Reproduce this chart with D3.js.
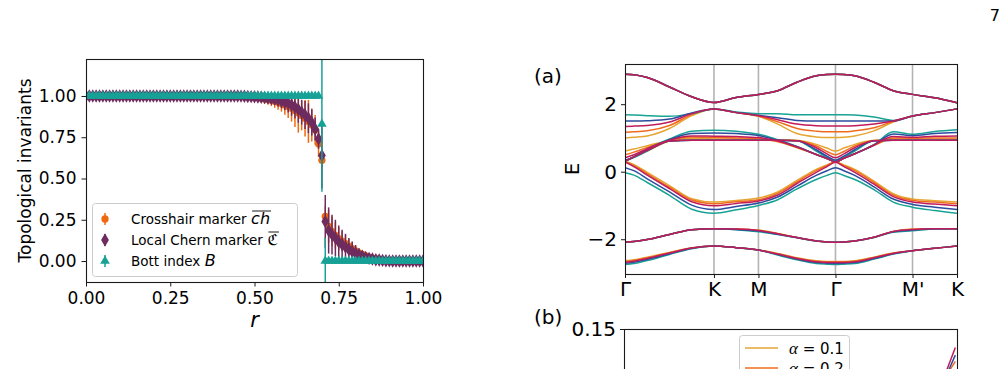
<!DOCTYPE html>
<html><head><meta charset="utf-8">
<script src="https://cdn.jsdelivr.net/npm/d3@7"></script>
<style>
body{margin:0;background:#fff}
svg{display:block}
text{font-family:"DejaVu Sans",sans-serif;fill:#000}
</style>
</head><body>
<svg id="c" width="1007" height="369"></svg>
<script>
// ================= DATA: left panel (topological invariants vs r) =================
const rGrid = [0.00,0.01,0.02,0.03,0.04,0.05,0.06,0.07,0.08,0.09,0.10,0.11,0.12,0.13,0.14,0.15,0.16,0.17,0.18,0.19,0.20,0.21,0.22,0.23,0.24,0.25,0.26,0.27,0.28,0.29,0.30,0.31,0.32,0.33,0.34,0.35,0.36,0.37,0.38,0.39,0.40,0.41,0.42,0.43,0.44,0.45,0.46,0.47,0.48,0.49,0.50,0.51,0.52,0.53,0.54,0.55,0.56,0.57,0.58,0.59,0.60,0.61,0.62,0.63,0.64,0.65,0.66,0.67,0.68,0.69,0.70,0.71,0.72,0.73,0.74,0.75,0.76,0.77,0.78,0.79,0.80,0.81,0.82,0.83,0.84,0.85,0.86,0.87,0.88,0.89,0.90,0.91,0.92,0.93,0.94,0.95,0.96,0.97,0.98,0.99,1.00];
const crosshair = [
1,1,1,1,1,1,1,1,1,1,
1,1,1,1,1,1,1,1,1,1,
1,1,1,1,1,1,1,1,1,1,
1,1,1,1,1,1,1,1,1,1,
1,1,1,1,1,1,0.999,0.998,0.997,0.995,
0.993,0.99,0.987,0.983,0.979,0.974,0.968,0.962,0.955,0.946,
0.936,0.925,0.912,0.898,0.882,0.865,0.846,0.824,0.795,0.71,
0.61,0.27,0.21,0.18,0.155,0.135,0.12,0.105,0.09,0.075,
0.062,0.05,0.04,0.031,0.024,0.018,0.013,0.009,0.006,0.004,
0.002,0.001,0.001,0.001,0.001,0.001,0.001,0.001,0.001,0.001,
0.001];
const crosshairErr = [
0.01,0.01,0.01,0.01,0.01,0.01,0.01,0.01,0.01,0.01,
0.01,0.01,0.01,0.01,0.01,0.01,0.01,0.01,0.01,0.01,
0.01,0.01,0.01,0.01,0.01,0.01,0.01,0.01,0.01,0.01,
0.01,0.01,0.01,0.01,0.01,0.01,0.01,0.01,0.01,0.01,
0.01,0.012,0.012,0.012,0.012,0.012,0.015,0.015,0.018,0.02,
0.02,0.025,0.025,0.03,0.03,0.035,0.04,0.045,0.05,0.06,
0.07,0.08,0.1,0.12,0.09,0.11,0.13,0.1,0.09,0.08,
0.05,0.06,0.1,0.09,0.08,0.07,0.06,0.05,0.045,0.04,
0.03,0.025,0.02,0.018,0.015,0.012,0.01,0.008,0.008,0.008,
0.008,0.008,0.008,0.008,0.008,0.008,0.008,0.008,0.008,0.008,
0.008];
const chern = [
1,1,1,1,1,1,1,1,1,1,
1,1,1,1,1,1,1,1,1,1,
1,1,1,1,1,1,1,1,1,1,
1,1,1,1,1,1,1,1,1,1,
1,1,1,1,1,1,0.999,0.998,0.997,0.996,
0.995,0.994,0.992,0.99,0.988,0.985,0.981,0.976,0.97,0.963,
0.955,0.945,0.933,0.918,0.902,0.885,0.865,0.84,0.80,0.74,
0.64,0.24,0.185,0.16,0.14,0.115,0.10,0.085,0.07,0.058,
0.047,0.037,0.029,0.022,0.016,0.012,0.008,0.006,0.004,0.002,
0.001,0,0,0,0,0,0,0,0,0,
0];
const chernErr = [
0.012,0.012,0.012,0.012,0.012,0.012,0.012,0.012,0.012,0.012,
0.012,0.012,0.012,0.012,0.012,0.012,0.012,0.012,0.012,0.012,
0.012,0.012,0.012,0.012,0.012,0.012,0.012,0.012,0.012,0.012,
0.012,0.012,0.012,0.012,0.012,0.012,0.012,0.012,0.012,0.012,
0.012,0.012,0.012,0.012,0.012,0.012,0.015,0.015,0.018,0.02,
0.02,0.022,0.025,0.025,0.03,0.03,0.035,0.04,0.045,0.05,
0.055,0.065,0.07,0.08,0.075,0.085,0.09,0.08,0.07,0.06,
0.2,0.16,0.14,0.12,0.11,0.1,0.09,0.08,0.07,0.06,
0.05,0.04,0.03,0.025,0.02,0.015,0.012,0.01,0.01,0.01,
0.01,0.01,0.01,0.01,0.01,0.01,0.01,0.01,0.01,0.01,
0.01];
const bott = [
1,1,1,1,1,1,1,1,1,1,
1,1,1,1,1,1,1,1,1,1,
1,1,1,1,1,1,1,1,1,1,
1,1,1,1,1,1,1,1,1,1,
1,1,1,1,1,1,1,1,1,1,
1,1,1,1,1,1,1,1,1,1,
1,1,1,1,1,1,1,1,1,1,
0.83,0,0,0,0,0,0,0,0,0,
0,0,0,0,0,0,0,0,0,0,
0,0,0,0,0,0,0,0,0,0,
0];
const bottErr = [
0.005,0.005,0.005,0.005,0.005,0.005,0.005,0.005,0.005,0.005,
0.005,0.005,0.005,0.005,0.005,0.005,0.005,0.005,0.005,0.005,
0.005,0.005,0.005,0.005,0.005,0.005,0.005,0.005,0.005,0.005,
0.005,0.005,0.005,0.005,0.005,0.005,0.005,0.005,0.005,0.005,
0.005,0.005,0.005,0.005,0.005,0.005,0.005,0.005,0.005,0.005,
0.005,0.005,0.005,0.005,0.005,0.005,0.005,0.005,0.005,0.005,
0.005,0.005,0.005,0.005,0.005,0.005,0.005,0.005,0.005,0.005,
0.41,0.14,0.005,0.005,0.005,0.005,0.005,0.005,0.005,0.005,
0.005,0.005,0.005,0.005,0.005,0.005,0.005,0.005,0.005,0.005,
0.005,0.005,0.005,0.005,0.005,0.005,0.005,0.005,0.005,0.005,
0.005];
const leftTicks = [0,0.25,0.5,0.75,1];
const seriesNames = ["Crosshair marker","Local Chern marker","Bott index"];
const seriesMath = ["ch","ℭ","B"];
const seriesColors = ["#f0690f","#6e2b5e","#17a196"];

// ================= DATA: panel (a) band structure =================
const kPts = [0,0.1,0.25,0.5,0.75,1,1.25,1.5,1.7165,1.933,2.1495,2.27,2.366,2.46,2.5825,2.799,3.0155,3.232,3.482,3.732];
const symPos = [0,1,1.5,2.366,3.232,3.732];
const symLabels = ["Γ","K","M","Γ","M'","K"];
const bandTicks = [-2,0,2];
const alphas = [0.1,0.2,0.3,0.4,0.5];
const alphaColors = ["#e5a632","#ef6c1e","#c01c5c","#2c4c9e","#19a394"];
// each band: rows = alpha 0.1 .. 0.5
const bandA = [2.89,2.87,2.79,2.51,2.22,2.05,2.20,2.29,2.40,2.65,2.84,2.88,2.89,2.88,2.84,2.65,2.40,2.29,2.19,2.04];
const bandB = [
 [1.00,1.02,1.06,1.28,1.66,1.86,1.75,1.64,1.41,1.13,1.03,1.01,1.01,1.02,1.06,1.21,1.47,1.65,1.75,1.86],
 [1.17,1.18,1.21,1.37,1.69,1.86,1.75,1.65,1.48,1.28,1.20,1.18,1.18,1.18,1.21,1.30,1.49,1.65,1.75,1.86],
 [1.34,1.35,1.37,1.47,1.72,1.86,1.75,1.66,1.54,1.41,1.36,1.35,1.35,1.35,1.36,1.41,1.50,1.65,1.75,1.86],
 [1.50,1.50,1.51,1.56,1.74,1.86,1.75,1.67,1.60,1.52,1.50,1.50,1.50,1.50,1.50,1.50,1.50,1.65,1.75,1.86],
 [1.69,1.68,1.66,1.64,1.72,1.86,1.77,1.72,1.72,1.69,1.69,1.69,1.69,1.69,1.68,1.62,1.52,1.65,1.75,1.86]];
const bandS = [
 [0.31,0.44,0.61,0.91,0.99,0.97,0.97,0.96,0.89,0.71,0.51,0.39,0.29,0.40,0.53,0.78,0.97,0.96,0.96,0.96],
 [0.31,0.44,0.62,0.92,1.03,1.01,1.00,0.98,0.90,0.72,0.51,0.39,0.29,0.40,0.53,0.78,1.00,0.99,1.00,1.00],
 [0.31,0.44,0.63,0.93,1.06,1.05,1.04,1.01,0.91,0.73,0.51,0.39,0.29,0.40,0.53,0.79,1.04,1.02,1.05,1.06],
 [0.31,0.44,0.65,0.95,1.13,1.15,1.13,1.07,0.93,0.74,0.51,0.39,0.29,0.40,0.53,0.79,1.12,1.07,1.13,1.16],
 [0.31,0.44,0.67,0.97,1.20,1.23,1.20,1.11,0.95,0.75,0.51,0.39,0.29,0.40,0.53,0.80,1.18,1.11,1.19,1.24]];
const bandF = [
 [0.61,0.67,0.77,0.91,0.95,0.95,0.95,0.95,0.95,0.93,0.81,0.70,0.61,0.70,0.81,0.93,0.95,0.95,0.95,0.95],
 [0.50,0.58,0.72,0.91,0.94,0.94,0.94,0.94,0.94,0.92,0.76,0.60,0.50,0.60,0.76,0.92,0.94,0.94,0.94,0.94],
 [0.41,0.50,0.68,0.91,0.93,0.93,0.93,0.93,0.93,0.92,0.71,0.53,0.41,0.53,0.71,0.92,0.93,0.93,0.93,0.93],
 [0.34,0.44,0.63,0.91,0.93,0.93,0.93,0.93,0.93,0.92,0.65,0.46,0.34,0.46,0.65,0.92,0.93,0.93,0.93,0.93],
 [0.31,0.42,0.61,0.91,0.93,0.93,0.93,0.93,0.93,0.92,0.61,0.42,0.31,0.42,0.61,0.92,0.93,0.93,0.93,0.93]];
const bandD = [
 [0.31,0.21,-0.02,-0.41,-0.80,-0.90,-0.85,-0.78,-0.60,-0.26,0.07,0.20,0.29,0.20,0.07,-0.28,-0.65,-0.81,-0.86,-0.90],
 [0.30,0.18,-0.06,-0.46,-0.84,-0.95,-0.89,-0.83,-0.64,-0.30,0.03,0.18,0.29,0.18,0.03,-0.32,-0.69,-0.85,-0.90,-0.95],
 [0.29,0.15,-0.10,-0.50,-0.89,-1.01,-0.94,-0.87,-0.69,-0.35,-0.02,0.15,0.28,0.15,-0.02,-0.37,-0.74,-0.90,-0.96,-1.01],
 [0.12,0.03,-0.21,-0.60,-0.99,-1.12,-1.03,-0.93,-0.75,-0.43,-0.11,0.03,0.12,0.03,-0.11,-0.45,-0.81,-0.97,-1.05,-1.12],
 [-0.03,-0.10,-0.32,-0.70,-1.11,-1.23,-1.13,-1.00,-0.83,-0.51,-0.23,-0.11,-0.03,-0.11,-0.23,-0.53,-0.90,-1.05,-1.15,-1.23]];
const bandE = [
 [-2.09,-2.07,-2.01,-1.86,-1.72,-1.69,-1.70,-1.73,-1.83,-1.95,-2.05,-2.08,-2.09,-2.08,-2.05,-1.94,-1.77,-1.70,-1.69,-1.69],
 [-2.09,-2.07,-2.01,-1.86,-1.72,-1.69,-1.70,-1.74,-1.84,-1.95,-2.05,-2.08,-2.09,-2.08,-2.05,-1.94,-1.77,-1.71,-1.69,-1.69],
 [-2.09,-2.07,-2.01,-1.86,-1.72,-1.69,-1.70,-1.74,-1.84,-1.95,-2.05,-2.08,-2.09,-2.08,-2.05,-1.94,-1.77,-1.71,-1.69,-1.69],
 [-2.09,-2.07,-2.01,-1.86,-1.72,-1.69,-1.71,-1.76,-1.85,-1.95,-2.05,-2.08,-2.09,-2.08,-2.05,-1.94,-1.78,-1.73,-1.69,-1.69],
 [-2.09,-2.07,-2.01,-1.86,-1.72,-1.69,-1.72,-1.78,-1.86,-1.96,-2.05,-2.08,-2.09,-2.08,-2.05,-1.95,-1.79,-1.75,-1.70,-1.69]];
const bandG = [
 [-2.64,-2.61,-2.53,-2.39,-2.25,-2.20,-2.25,-2.32,-2.42,-2.55,-2.64,-2.66,-2.66,-2.66,-2.64,-2.53,-2.41,-2.34,-2.27,-2.20],
 [-2.66,-2.63,-2.55,-2.40,-2.26,-2.20,-2.25,-2.32,-2.43,-2.56,-2.65,-2.67,-2.67,-2.67,-2.65,-2.54,-2.41,-2.34,-2.27,-2.20],
 [-2.68,-2.65,-2.57,-2.41,-2.26,-2.20,-2.25,-2.32,-2.44,-2.57,-2.67,-2.69,-2.69,-2.69,-2.67,-2.55,-2.42,-2.34,-2.27,-2.20],
 [-2.71,-2.68,-2.60,-2.43,-2.27,-2.20,-2.25,-2.32,-2.45,-2.59,-2.69,-2.71,-2.72,-2.71,-2.69,-2.57,-2.43,-2.34,-2.27,-2.20],
 [-2.75,-2.72,-2.63,-2.45,-2.28,-2.20,-2.25,-2.32,-2.47,-2.61,-2.72,-2.74,-2.75,-2.74,-2.72,-2.59,-2.44,-2.34,-2.27,-2.20]];

// ================= DATA: panel (b) (only its top edge is visible) =================
const bTicks = [0.15];
const bX = [0.96,0.995];
const bCurves = [[0.117,0.129],[0.116,0.133],[0.118,0.138]];
const bCurveColors = ["#ef6c1e","#2c4c9e","#c01c5c"];
const bLegendValues = ["0.1","0.2"];

// ================= DRAW =================
const svg = d3.select("#c");
const defs = svg.append("defs");
function spines(g, x0, y0, x1, y1){
  g.append("rect").attr("x",x0+0.5).attr("y",y0+0.5).attr("width",x1-x0-1).attr("height",y1-y0-1)
   .attr("fill","none").attr("stroke","#1a1a1a").attr("stroke-width",1.1);
}
function styleAxis(g, fs){
  g.select(".domain").remove();
  g.selectAll(".tick line").attr("stroke","#1a1a1a").attr("stroke-width",1);
  g.selectAll(".tick text").attr("font-size",fs).attr("font-family","DejaVu Sans").attr("fill","#000");
}

// ---------- left panel ----------
const L = {x0:86, x1:423, y0:59, y1:282};
const xL = d3.scaleLinear().domain([0,1]).range([L.x0,L.x1]);
const yL = d3.scaleLinear().domain([-0.127,1.224]).range([L.y1,L.y0]);
defs.append("clipPath").attr("id","clipL").append("rect")
  .attr("x",L.x0).attr("y",L.y0).attr("width",L.x1-L.x0).attr("height",L.y1-L.y0);
const gL = svg.append("g").attr("clip-path","url(#clipL)");
const symTypes = [d3.symbolCircle, d3.symbolDiamond, d3.symbolTriangle];
const symSizes = [42, 52, 40];
const leftVals = [crosshair, chern, bott];
const leftErrs = [crosshairErr, chernErr, bottErr];
leftVals.forEach((vals, s) => {
  const g = gL.append("g");
  g.selectAll("line").data(rGrid).join("line")
    .attr("x1", d => xL(d)).attr("x2", d => xL(d))
    .attr("y1", (d,i) => yL(vals[i] - leftErrs[s][i]))
    .attr("y2", (d,i) => yL(vals[i] + leftErrs[s][i]))
    .attr("stroke", seriesColors[s]).attr("stroke-width", 1.5);
  g.selectAll("path").data(rGrid).join("path")
    .attr("d", d3.symbol().type(symTypes[s]).size(symSizes[s]))
    .attr("transform", (d,i) => `translate(${xL(d)},${yL(vals[i])})`)
    .attr("fill", seriesColors[s]);
});
spines(svg, L.x0, L.y0, L.x1+1, L.y1+1);
const axLx = svg.append("g").attr("transform",`translate(0,${L.y1})`)
  .call(d3.axisBottom(xL).tickValues(leftTicks).tickFormat(d3.format(".2f")).tickSize(4.5).tickPadding(5));
styleAxis(axLx, 17);
const axLy = svg.append("g").attr("transform",`translate(${L.x0},0)`)
  .call(d3.axisLeft(yL).tickValues(leftTicks).tickFormat(d3.format(".2f")).tickSize(4.5).tickPadding(5));
styleAxis(axLy, 17);
svg.append("text").attr("transform",`translate(31,${(L.y0+L.y1)/2}) rotate(-90)`)
  .attr("text-anchor","middle").attr("font-size",17).text("Topological invariants");
svg.append("text").attr("x",(L.x0+L.x1)/2).attr("y",327).attr("text-anchor","middle")
  .attr("font-size",21).attr("font-style","italic").text("r");

// legend
svg.append("rect").attr("x",92.5).attr("y",203.5).attr("width",205).attr("height",73).attr("rx",3)
  .attr("fill","#fff").attr("fill-opacity",0.85).attr("stroke","#cccccc").attr("stroke-width",1);
seriesNames.forEach((name, s) => {
  const cy = 219 + s*21;
  svg.append("line").attr("x1",105).attr("x2",105).attr("y1",cy-6).attr("y2",cy+6)
    .attr("stroke",seriesColors[s]).attr("stroke-width",1.5);
  svg.append("path").attr("d", d3.symbol().type(symTypes[s]).size(symSizes[s])())
    .attr("transform",`translate(105,${cy})`).attr("fill",seriesColors[s]);
  const t = svg.append("text").attr("x",131).attr("y",cy+5).attr("font-size",13.5).text(name);
  const w = t.node().getComputedTextLength() + 4.5;
  const m = svg.append("text").attr("x",131+w).attr("y",cy+5)
    .attr("font-size", s===1 ? 15 : 16)
    .attr("font-family", s===1 ? "DejaVu Serif, DejaVu Sans" : "Liberation Serif, DejaVu Serif")
    .attr("font-style", s===1 ? "normal" : "italic").text(seriesMath[s]);
  if (s < 2) {
    const mw = m.node().getComputedTextLength();
    svg.append("line").attr("x1",131+w+1).attr("x2",131+w+mw+1).attr("y1",cy-8).attr("y2",cy-8)
      .attr("stroke","#000").attr("stroke-width",0.9);
  }
});

// ---------- panel (a) ----------
const B = {x0:625, x1:957, y0:64, y1:274};
const xB = d3.scaleLinear().domain([0,3.732]).range([B.x0,B.x1]);
const yB = d3.scaleLinear().domain([-3.03,3.19]).range([B.y1,B.y0]);
defs.append("clipPath").attr("id","clipB").append("rect")
  .attr("x",B.x0).attr("y",B.y0).attr("width",B.x1-B.x0).attr("height",B.y1-B.y0);
const gB = svg.append("g").attr("clip-path","url(#clipB)");
gB.selectAll("line.vl").data(symPos.slice(1,-1)).join("line").attr("class","vl")
  .attr("x1",d=>xB(d)).attr("x2",d=>xB(d)).attr("y1",B.y0).attr("y2",B.y1)
  .attr("stroke","#b3b3b3").attr("stroke-width",1.6);
const lineB = d3.line().x((d,i)=>xB(kPts[i])).y(d=>yB(d)).curve(d3.curveMonotoneX);
const drawOrder = [0,1,4,3,2];
const bands = [bandD, bandF, bandS, bandB, bandE, bandG];
drawOrder.forEach(a => {
  bands.forEach(band => {
    gB.append("path").attr("d", lineB(band[a])).attr("fill","none")
      .attr("stroke", alphaColors[a]).attr("stroke-width",1.5);
  });
  gB.append("path").attr("d", lineB(bandA)).attr("fill","none")
    .attr("stroke", alphaColors[a]).attr("stroke-width",1.5);
});
spines(svg, B.x0, B.y0, B.x1+1, B.y1+1);
const axBy = svg.append("g").attr("transform",`translate(${B.x0},0)`)
  .call(d3.axisLeft(yB).tickValues(bandTicks).tickFormat(d3.format("d")).tickSize(4).tickPadding(4));
styleAxis(axBy, 20);
const axBx = svg.append("g").attr("transform",`translate(0,${B.y1})`)
  .call(d3.axisBottom(xB).tickValues(symPos).tickFormat((d,i)=>symLabels[i]).tickSize(4).tickPadding(4));
styleAxis(axBx, 20);
svg.append("text").attr("transform",`translate(579,169) rotate(-90)`).attr("text-anchor","middle")
  .attr("font-size",20).text("E");
svg.append("text").attr("x",534).attr("y",83).attr("font-size",20).text("(a)");

// ---------- panel (b), top part ----------
const P = {x0:624, x1:957, y0:329, y1:560};
const xP = d3.scaleLinear().domain([0,1]).range([P.x0,P.x1]);
const yP = d3.scaleLinear().domain([0,0.15]).range([P.y1,P.y0]);
defs.append("clipPath").attr("id","clipP").append("rect")
  .attr("x",P.x0).attr("y",P.y0).attr("width",P.x1-P.x0).attr("height",P.y1-P.y0);
const gP = svg.append("g").attr("clip-path","url(#clipP)");
const lineP = d3.line().x((d,i)=>xP(bX[i])).y(d=>yP(d));
bCurves.forEach((c,i)=>{
  gP.append("path").attr("d",lineP(c)).attr("fill","none").attr("stroke",bCurveColors[i]).attr("stroke-width",1.5);
});
spines(svg, P.x0, P.y0, P.x1+1, P.y1);
const axPy = svg.append("g").attr("transform",`translate(${P.x0},0)`)
  .call(d3.axisLeft(yP).tickValues(bTicks).tickFormat(d3.format(".2f")).tickSize(4).tickPadding(4));
styleAxis(axPy, 20);
svg.append("text").attr("x",534).attr("y",324).attr("font-size",20).text("(b)");
svg.append("rect").attr("x",739.5).attr("y",335.5).attr("width",110).attr("height",60).attr("rx",3)
  .attr("fill","#fff").attr("stroke","#cccccc").attr("stroke-width",1);
bLegendValues.forEach((v,i)=>{
  const cy = 348 + i*20;
  svg.append("line").attr("x1",745).attr("x2",778).attr("y1",cy).attr("y2",cy)
    .attr("stroke",alphaColors[i]).attr("stroke-width",1.5);
  const t = svg.append("text").attr("x",789).attr("y",cy+5.5).attr("font-size",15);
  t.append("tspan").attr("font-family","Liberation Serif, DejaVu Serif").attr("font-style","italic")
    .attr("font-size",17).text("α");
  t.append("tspan").text(" = " + v);
});

// page number
svg.append("text").attr("x",1000).attr("y",21).attr("text-anchor","end").attr("font-size",16)
  .attr("font-family","Liberation Serif, DejaVu Serif").text("7");
</script>
</body></html>
